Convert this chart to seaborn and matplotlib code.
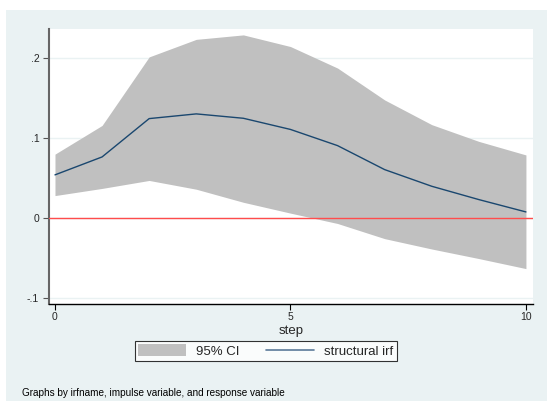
import numpy as np
import pandas as pd
import matplotlib
matplotlib.use("Agg")
import matplotlib.pyplot as plt
from matplotlib.patches import Rectangle, Patch
from matplotlib.lines import Line2D
import seaborn as sns

# Impulse-response estimates by step
steps = [0, 1, 2, 3, 4, 5, 6, 7, 8, 9, 10]
irf = [0.054, 0.0765, 0.1246, 0.1305, 0.125, 0.111, 0.0907, 0.0606, 0.0397, 0.023, 0.0075]
ci_upper = [0.080, 0.116, 0.202, 0.224, 0.2296, 0.215, 0.188, 0.148, 0.117, 0.096, 0.079]
ci_lower = [0.028, 0.037, 0.047, 0.036, 0.0196, 0.006, -0.007, -0.026, -0.039, -0.051, -0.0636]

x_ticks = [0, 5, 10]
y_ticks = [-0.1, 0.0, 0.1, 0.2]
y_tick_labels = ["-.1", "0", ".1", ".2"]

df = pd.DataFrame({"step": steps, "irf": irf, "lo": ci_lower, "hi": ci_upper})

sns.set_theme(style="white")
plt.rcParams["font.family"] = ["Liberation Sans", "DejaVu Sans"]

W, H = 547, 401
fig = plt.figure(figsize=(W / 100, H / 100), dpi=100, facecolor="white")

# Light graph region behind the plot
panel_color = "#EAF2F3"
panel = Rectangle((6 / W, 0), 1 - 6 / W, 1 - 10 / H,
                  transform=fig.transFigure, facecolor=panel_color,
                  edgecolor="none", zorder=-5)
fig.add_artist(panel)

ax = fig.add_axes([49 / W, 1 - 304 / H, (533 - 49) / W, (304 - 29) / H])
ax.set_zorder(2)
ax.set_facecolor("white")

ax.fill_between(df["step"], df["lo"], df["hi"], color="#C0C0C0", linewidth=0, zorder=2)
ax.axhline(0, color="#FF4C4C", linewidth=1.0, zorder=3)
sns.lineplot(data=df, x="step", y="irf", ax=ax, color="#1A476F", linewidth=1.0,
             zorder=4, legend=False)

ax.set_xlim(-0.127, 10.15)
ax.set_ylim(-0.108, 0.237)
ax.set_xticks(x_ticks)
ax.set_xticklabels([str(t) for t in x_ticks], fontsize=7.5)
ax.set_yticks(y_ticks)
ax.set_yticklabels(y_tick_labels, fontsize=7.5)
for yv in y_ticks:
    ax.axhline(yv, color=panel_color, linewidth=1.0, zorder=1)

ax.tick_params(axis="both", which="both", direction="out", length=4, width=0.8,
               color="black", pad=2, bottom=True, left=True)
ax.tick_params(axis="y", color="#555555", pad=3)
for side in ["top", "right"]:
    ax.spines[side].set_visible(False)
ax.spines["left"].set_color("#666666")
ax.spines["left"].set_linewidth(1.5)
ax.spines["bottom"].set_color("black")
ax.spines["bottom"].set_linewidth(1.0)

ax.set_xlabel("step", fontsize=9.5, labelpad=2)
ax.set_ylabel("")

handles = [Patch(facecolor="#C0C0C0", edgecolor="none"),
           Line2D([0], [0], color="#5B7A99", linewidth=1.2)]
leg = fig.legend(handles, ["95% CI", "structural irf"], loc="center",
                 bbox_to_anchor=(266 / W, 1 - 351 / H), ncol=2, fontsize=9.5,
                 frameon=True, fancybox=False, handlelength=3.6, handleheight=1.0,
                 columnspacing=2.0, handletextpad=0.8, borderpad=0.25)
leg.get_frame().set_edgecolor("black")
leg.get_frame().set_linewidth(0.8)
leg.get_frame().set_facecolor("white")
leg.set_zorder(3)

fig.text(22 / W, 1 - 393 / H, "Graphs by irfname, impulse variable, and response variable",
         fontsize=7.2, ha="left", va="center", color="black", zorder=3)

fig.savefig("out.png", dpi=100, facecolor="white")
